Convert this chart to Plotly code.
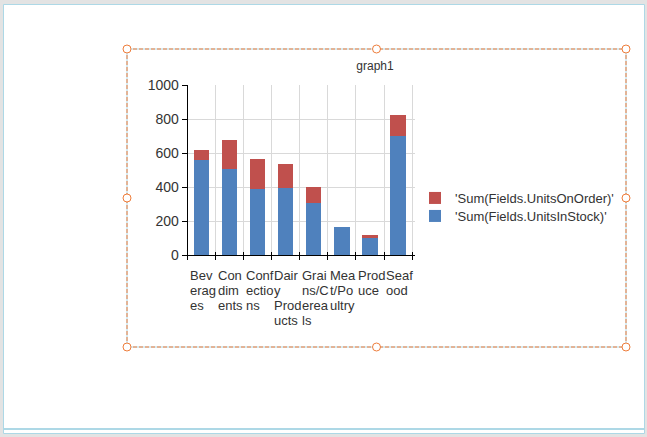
import plotly.graph_objects as go

W, H = 647, 437

categories = ["Beverages", "Condiments", "Confections", "Dairy Products",
              "Grains/Cereals", "Meat/Poultry", "Produce", "Seafood"]
tick_labels = [["Bev", "erag", "es"], ["Con", "dim", "ents"], ["Conf", "ectio", "ns"],
               ["Dair", "y", "Prod", "ucts"], ["Grai", "ns/C", "erea", "ls"],
               ["Mea", "t/Po", "ultry"], ["Prod", "uce"], ["Seaf", "ood"]]
units_in_stock = [559, 507, 386, 393, 308, 165, 100, 701]
units_on_order = [60, 170, 180, 140, 90, 0, 20, 120]
y_ticks = [0, 200, 400, 600, 800, 1000]

FONT = "Liberation Sans, Arial, sans-serif"
TXT = "#333333"
BLUE = "#4F81BD"
RED = "#C0504D"
LB = "#add8e6"
OR = "#ee7d3b"


def px(x):
    return x / W


def py(y):
    return 1 - y / H


fig = go.Figure()
fig.add_trace(go.Bar(x=categories, y=units_in_stock, name="'Sum(Fields.UnitsInStock)'",
                     marker=dict(color=BLUE, line=dict(width=0)), width=0.54, legend="legend2"))
fig.add_trace(go.Bar(x=categories, y=units_on_order, name="'Sum(Fields.UnitsOnOrder)'",
                     marker=dict(color=RED, line=dict(width=0)), width=0.54, legend="legend"))

shapes = []
# page background frame
shapes.append(dict(type="rect", xref="paper", yref="paper", x0=px(3.5), x1=px(644.5),
                   y0=py(4.5), y1=py(433.5), fillcolor="white", line=dict(color=LB, width=1),
                   layer="below"))
shapes.append(dict(type="line", xref="paper", yref="paper", x0=px(4), x1=px(644),
                   y0=py(429), y1=py(429), line=dict(color=LB, width=2), layer="below"))
# selection rectangle
L, R, T, B = 127, 626, 49, 347
for (x0, y0, x1, y1) in [(L, T, R, T), (L, B, R, B), (L, T, L, B), (R, T, R, B)]:
    shapes.append(dict(type="line", xref="paper", yref="paper", x0=px(x0), x1=px(x1),
                       y0=py(y0), y1=py(y1), line=dict(color=LB, width=1)))
    shapes.append(dict(type="line", xref="paper", yref="paper", x0=px(x0), x1=px(x1),
                       y0=py(y0), y1=py(y1), line=dict(color=OR, width=1, dash="4px,2px")))
mx, my = (L + R) / 2, (T + B) / 2
for (cx, cy) in [(L, T), (mx, T), (R, T), (L, my), (R, my), (L, B), (mx, B), (R, B)]:
    shapes.append(dict(type="circle", xref="paper", yref="paper", x0=px(cx - 4), x1=px(cx + 4),
                       y0=py(cy - 4), y1=py(cy + 4), fillcolor="white", line=dict(color=OR, width=1)))

annotations = []
for i, lines in enumerate(tick_labels):
    for k, line in enumerate(lines):
        annotations.append(dict(x=i - 0.5, xref="x", y=py(275 + 15 * k), yref="paper", text=line,
                                showarrow=False, xanchor="left", yanchor="middle", align="left",
                                xshift=0, font=dict(family=FONT, size=13, color=TXT)))

x0p, x1p = 187.7, 415
y0p, y1p = 255, 85

fig.update_layout(
    width=W, height=H,
    margin=dict(l=0, r=0, t=0, b=0, autoexpand=False),
    paper_bgcolor="#e3e3e3",
    plot_bgcolor="rgba(0,0,0,0)",
    barmode="stack",
    font=dict(family=FONT, size=12, color=TXT),
    title=dict(text="graph1", x=px(375), xanchor="center", y=py(66), yanchor="middle",
               font=dict(family=FONT, size=12, color=TXT)),
    xaxis=dict(domain=[px(x0p), px(x1p)], showticklabels=False, ticks="outside", ticklen=4,
               tickcolor="black", tickson="boundaries", showgrid=True, gridcolor="#d9d9d9",
               showline=True, linecolor="black", linewidth=1, zeroline=False, automargin=False),
    xaxis2=dict(domain=[px(x0p), px(x1p)], overlaying="x", matches="x", showticklabels=False,
                ticks="inside", ticklen=3, tickcolor="black", tickson="boundaries",
                showgrid=False, showline=False, zeroline=False, anchor="y", automargin=False),
    yaxis=dict(domain=[py(y0p), py(y1p)], range=[0, 1000], tickvals=y_ticks, ticks="outside",
               ticklen=5, tickcolor="black", showgrid=True, gridcolor="#d9d9d9",
               showline=True, linecolor="black", linewidth=1, zeroline=False, automargin=False,
               tickfont=dict(family=FONT, size=14, color=TXT)),
    legend=dict(x=px(415), xanchor="left", y=py(183), yanchor="top",
                font=dict(family=FONT, size=13, color=TXT), bgcolor="rgba(0,0,0,0)"),
    legend2=dict(x=px(415), xanchor="left", y=py(201), yanchor="top",
                 font=dict(family=FONT, size=13, color=TXT), bgcolor="rgba(0,0,0,0)"),
    shapes=shapes,
    annotations=annotations,
)
# invisible trace to activate xaxis2
fig.add_trace(go.Bar(x=categories, y=[0] * len(categories), xaxis="x2", showlegend=False,
                     hoverinfo="skip", marker=dict(color="rgba(0,0,0,0)")))

fig.write_html("out.html", config={"displayModeBar": False},
               post_script="document.body.style.margin='0';document.body.style.overflow='hidden';")
